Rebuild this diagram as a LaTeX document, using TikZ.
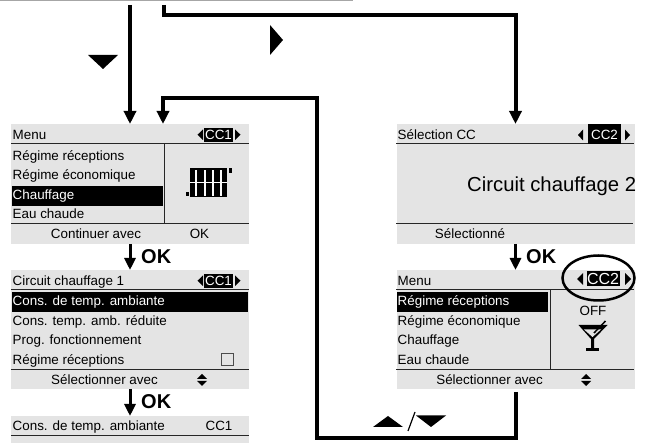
\documentclass[tikz,border=0pt]{standalone}
\usepackage{fontspec}
\setmainfont{Liberation Sans}
\usetikzlibrary{arrows.meta, calc, positioning, shapes.geometric}

\definecolor{screenGrey}{HTML}{E4E4E4}
\tikzset{
    screen/.style={fill=screenGrey, draw=none, minimum width=238pt, inner sep=0pt, outer sep=0pt},
    rowtext/.style={anchor=base west, inner sep=0pt, font=\fontsize{13.4}{15}\selectfont},
    midtext/.style={rowtext, anchor=base},
    flow/.style={line width=4pt, -{Triangle[length=13pt, width=12pt]}},
    okarrow/.style={line width=3pt, -{Triangle[length=12pt, width=11pt]}},
    oktext/.style={anchor=base west, inner sep=0pt, font=\fontsize{20}{22}\selectfont\bfseries},
    rule/.style={line width=1pt, black!85},
    selbar/.style={fill=black, draw=none, inner sep=0pt},
}

\begin{document}
\begin{tikzpicture}[x=1pt, y=-1pt]

    \useasboundingbox (0,0) rectangle (646,443);
    \fill[black!35] (0,0) rectangle (353,1);

    % screens
    \node[screen, minimum height=120pt] (menuA) at (130,184) {};
    \node[screen, minimum height=119pt] (circuitA) at (130,329.5) {};
    \node[screen, minimum height=27pt] (consA) at (130,429.5) {};
    \node[screen, minimum height=120pt] (selCC) at (515.5,184) {};
    \node[screen, minimum height=119pt] (menuB) at (515.5,329.5) {};

    % first menu
    \draw[rule] (11,144) -- (249,144);
    \draw[rule] (11,223.5) -- (249,223.5);
    \draw[rule] (164,144) -- (164,223.5);
    \fill (12,186) rectangle (163,206);
    \node[rowtext] (a0) at (12.5,139.3) {Menu};
    \node[rowtext] (a1) at (12.5,160.5) {Régime réceptions};
    \node[rowtext] (a2) at (12.5,180) {Régime économique};
    \node[rowtext, text=white] (a3) at (12.5,199.5) {Chauffage};
    \node[rowtext] (a4) at (12.5,219) {Eau chaude};
    \node[midtext] (a5) at (96,238.7) {Continuer avec};
    \node[midtext] (a6) at (199.5,238.7) {OK};
    \node[selbar, minimum width=29pt, minimum height=14pt] (ccA) at (218.5,134.7) {};
    \node[midtext, text=white] (ccAt) at (218.5,139.5) {CC1};
    \fill (203,129.5) -- (203,140) -- (197.5,134.7) -- cycle;
    \fill (235,129.5) -- (235,140) -- (240.5,134.7) -- cycle;

    % radiator
    \fill (189.5,168) rectangle (226.5,197);
    \foreach \x in {195,203.5,211.5,220}{
        \fill[white!85!screenGrey] (\x,170.5) rectangle ++(2.4,26);
    }
    \fill (229,168) rectangle (231.5,173);
    \fill (186,192) rectangle (188.5,196.5);
    \draw[white, line width=0.7pt] (189.5,182.5) -- (226.5,182.5);

    % second screen
    \draw[rule] (11,290) -- (249,290);
    \draw[rule] (11,369.5) -- (249,369.5);
    \fill (12,292) rectangle (248,312);
    \node[rowtext] (b0) at (12.5,285.3) {Circuit chauffage 1};
    \node[rowtext, text=white] (b1) at (12.5,306) {Cons. de temp. ambiante};
    \node[rowtext] (b2) at (12.5,325.7) {Cons. temp. amb. réduite};
    \node[rowtext] (b3) at (12.5,345) {Prog. fonctionnement};
    \node[rowtext] (b4) at (12.5,364.3) {Régime réceptions};
    \node[midtext] (b5) at (104.5,385) {Sélectionner avec};
    \node[selbar, minimum width=29pt, minimum height=14pt] (ccB) at (218.5,280.7) {};
    \node[midtext, text=white] (ccBt) at (218.5,285.5) {CC1};
    \fill (203,275.5) -- (203,286) -- (197.5,280.7) -- cycle;
    \fill (235,275.5) -- (235,286) -- (240.5,280.7) -- cycle;
    \node[draw=black!70, line width=0.7pt, minimum size=12pt, inner sep=0pt] (chk) at (227,359.5) {};
    \fill (197,379) -- (207,379) -- (202,374) -- cycle;
    \fill (197,381) -- (207,381) -- (202,386) -- cycle;

    % third screen
    \draw[rule] (11,436) -- (249,436);
    \node[rowtext] (c0) at (12.5,431) {Cons. de temp. ambiante};
    \node[midtext] (c1) at (219,431) {CC1};

    % selection screen
    \draw[rule] (396,144) -- (634,144);
    \draw[rule] (396,223.5) -- (633,223.5);
    \node[rowtext] (d0) at (397.5,139.3) {Sélection CC};
    \node[midtext] (d1) at (470,238.7) {Sélectionné};
    \node[anchor=base west, inner sep=0pt, font=\fontsize{20.3}{22}\selectfont] (d2) at (467,191.7) {Circuit chauffage 2};
    \node[selbar, minimum width=33pt, minimum height=20pt] (ccC) at (604.5,134.5) {};
    \node[midtext, text=white] (ccCt) at (604.5,139.5) {CC2};
    \fill (578,135) -- (583,129.5) -- (583,140.5) -- cycle;
    \fill (625,129.5) -- (625,140.5) -- (630,135) -- cycle;

    % second menu
    \draw[rule] (396,290) -- (634,290);
    \draw[rule] (396,369.5) -- (634,369.5);
    \draw[rule] (550,290) -- (550,369.5);
    \fill (397,292) rectangle (548,312);
    \node[rowtext] (e0) at (397.5,285.3) {Menu};
    \node[rowtext, text=white] (e1) at (397.5,306) {Régime réceptions};
    \node[rowtext] (e2) at (397.5,325.7) {Régime économique};
    \node[rowtext] (e3) at (397.5,345) {Chauffage};
    \node[rowtext] (e4) at (397.5,364.3) {Eau chaude};
    \node[midtext] (e5) at (489.6,385) {Sélectionner avec};
    \node[midtext] (e6) at (593,315.7) {OFF};
    \node[selbar, minimum width=33pt, minimum height=15pt] (ccD) at (603,279) {};
    \node[midtext, text=white, font=\fontsize{16}{18}\selectfont] (ccDt) at (603,284.7) {CC2};
    \fill (577,279) -- (583,273) -- (583,285) -- cycle;
    \fill (625,273) -- (625,285) -- (631,279) -- cycle;
    \fill (581,379) -- (591,379) -- (586,374) -- cycle;
    \fill (581,381) -- (591,381) -- (586,386) -- cycle;

    % glass
    \fill (578.5,325) -- (607.5,325) -- (594,339) -- (594,348) -- (591,348) -- (591,339) -- cycle;
    \fill[screenGrey] (584,329.5) -- (601,329.5) -- (592.5,337) -- cycle;
    \fill (586,348) rectangle (599,351);
    \draw[line width=1.5pt] (594,333) -- (605.5,321);
    \node[draw, ellipse, line width=2.5pt, minimum width=72pt, minimum height=45pt, inner sep=0pt] (mark) at (598.5,278) {};

    % connectors
    \coordinate (startA) at (130,5);
    \coordinate (startB) at (164,5);
    \coordinate (kneeB) at (164,15.5);
    \coordinate (kneeC) at (515.5,438.5);
    \coordinate (kneeD) at (317,438.5);
    \coordinate (kneeE) at (317,98);
    \coordinate (kneeF) at (163,98);
    \draw[flow] (startA) -- (startA |- menuA.north);
    \draw[flow] (startB) |- (kneeB -| selCC.north) -- (selCC.north);
    \draw[flow] (menuB.south) ++(0,3) -- (kneeC) -- (kneeD) -- (kneeE) -- (kneeF) -- (kneeF |- menuA.north);
    \draw[okarrow] (menuA.south) -- (circuitA.north);
    \draw[okarrow] (circuitA.south) -- (consA.north);
    \draw[okarrow] (selCC.south) -- (menuB.north);
    \node[oktext] (okA) at (141,263.3) {OK};
    \node[oktext] (okB) at (141,409) {OK};
    \node[oktext] (okC) at (526,263.3) {OK};

    % keys
    \fill (88,55) -- (118,55) -- (103,69) -- cycle;
    \fill (270,25) -- (283,40) -- (270,55) -- cycle;
    \fill (373,427) -- (403,427) -- (388,416) -- cycle;
    \fill (416,415.5) -- (446,415.5) -- (431,427) -- cycle;
    \draw[line width=1.2pt] (408,431) -- (415,412);

\end{tikzpicture}
\end{document}
